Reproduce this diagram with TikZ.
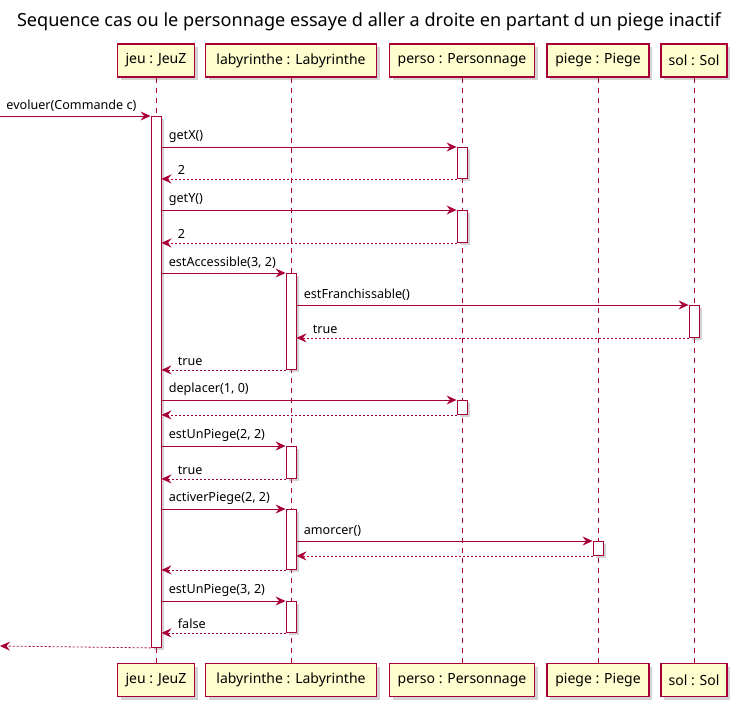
\documentclass[tikz,border=0pt]{standalone}
\usepackage{fontspec}
\setmainfont{Noto Sans}
\usetikzlibrary{arrows.meta,shadows}
\definecolor{umlred}{HTML}{A80036}
\definecolor{umlfill}{HTML}{FEFECE}
\tikzset{
  actor/.style={draw=umlred, line width=1.2pt, fill=umlfill, minimum height=33pt, inner sep=0pt,
    font=\fontsize{14}{16}\selectfont, drop shadow={shadow xshift=3pt, shadow yshift=-3pt, opacity=0.35}},
  life/.style={draw=umlred, line width=0.8pt, dash pattern=on 5pt off 5pt},
  bar/.style={draw=umlred, line width=0.9pt, fill=white, minimum width=10pt, inner sep=0pt, anchor=north,
    drop shadow={shadow xshift=3pt, shadow yshift=-3pt, opacity=0.35}},
  call/.style={draw=umlred, line width=0.8pt, -{Stealth[length=10pt, width=9pt, inset=3.5pt]}},
  ret/.style={call, dash pattern=on 2pt off 2pt},
  lbl/.style={anchor=south west, inner sep=0pt, yshift=4pt, font=\fontsize{12.6}{14}\selectfont}
}

\begin{document}
\begin{tikzpicture}[x=1pt, y=-1pt]
\useasboundingbox (0,0) rectangle (738,709);
\node[font=\fontsize{18.1}{21}\selectfont] (title) at (369,22) {Sequence cas ou le personnage essaye d aller a droite en partant d un piege inactif};

% participants
\node[actor, minimum width=77pt]  (jeu)   at (156,60.5) {jeu : JeuZ};
\node[actor, minimum width=171pt] (laby)  at (291,60.5) {labyrinthe : Labyrinthe};
\node[actor, minimum width=145pt] (perso) at (462,60.5) {perso : Personnage};
\node[actor, minimum width=102pt] (piege) at (598,60.5) {piege : Piege};
\node[actor, minimum width=66pt]  (sol)   at (694,60.5) {sol : Sol};
\node[actor, minimum width=77pt]  (jeuB)   at (156,680) {jeu : JeuZ};
\node[actor, minimum width=171pt] (labyB)  at (291,680) {labyrinthe : Labyrinthe};
\node[actor, minimum width=145pt] (persoB) at (462,680) {perso : Personnage};
\node[actor, minimum width=102pt] (piegeB) at (598,680) {piege : Piege};
\node[actor, minimum width=66pt]  (solB)   at (694,680) {sol : Sol};
\foreach \p in {jeu,laby,perso,piege,sol}
  \draw[life] (\p) -- (\p B);

% activations
\node[bar, minimum height=531pt] (jeuA) at (156,116) {};
\node[bar, minimum height=31pt] (persoX) at (462,147) {};
\node[bar, minimum height=32pt] (persoY) at (462,210) {};
\node[bar, minimum height=96pt] (labyA) at (291,273) {};
\node[bar, minimum height=32pt] (solA) at (694,305) {};
\node[bar, minimum height=14pt] (persoD) at (462,400) {};
\node[bar, minimum height=32pt] (labyU) at (291,446) {};
\node[bar, minimum height=60pt] (labyP) at (291,509) {};
\node[bar, minimum height=14pt] (piegeA) at (598,541) {};
\node[bar, minimum height=31pt] (labyV) at (291,601) {};

\coordinate (in)  at (0,116);
\coordinate (out) at (0,646);

% messages
\draw[call] (in) -- node[lbl, pos=0, xshift=6pt] {evoluer(Commande c)} (jeuA.north west);
\draw[call] (jeuA.east |- persoX.north) -- node[lbl, pos=0, xshift=7pt] {getX()} (persoX.north west);
\draw[ret] (persoX.south west) -- node[lbl, pos=1, xshift=16pt] {2} (jeuA.east |- persoX.south);
\draw[call] (jeuA.east |- persoY.north) -- node[lbl, pos=0, xshift=7pt] {getY()} (persoY.north west);
\draw[ret] (persoY.south west) -- node[lbl, pos=1, xshift=16pt] {2} (jeuA.east |- persoY.south);
\draw[call] (jeuA.east |- labyA.north) -- node[lbl, pos=0, xshift=7pt] {estAccessible(3, 2)} (labyA.north west);
\draw[call] (labyA.north east |- solA.north) -- node[lbl, pos=0, xshift=7pt] {estFranchissable()} (solA.north west);
\draw[ret] (solA.south west) -- node[lbl, pos=1, xshift=16pt] {true} (labyA.east |- solA.south);
\draw[ret] (labyA.south west) -- node[lbl, pos=1, xshift=16pt] {true} (jeuA.east |- labyA.south);
\draw[call] (jeuA.east |- persoD.north) -- node[lbl, pos=0, xshift=7pt] {deplacer(1, 0)} (persoD.north west);
\draw[ret] (persoD.south west) -- (jeuA.east |- persoD.south);
\draw[call] (jeuA.east |- labyU.north) -- node[lbl, pos=0, xshift=7pt] {estUnPiege(2, 2)} (labyU.north west);
\draw[ret] (labyU.south west) -- node[lbl, pos=1, xshift=16pt] {true} (jeuA.east |- labyU.south);
\draw[call] (jeuA.east |- labyP.north) -- node[lbl, pos=0, xshift=7pt] {activerPiege(2, 2)} (labyP.north west);
\draw[call] (labyP.east |- piegeA.north) -- node[lbl, pos=0, xshift=7pt] {amorcer()} (piegeA.north west);
\draw[ret] (piegeA.south west) -- (labyP.east |- piegeA.south);
\draw[ret] (labyP.south west) -- (jeuA.east |- labyP.south);
\draw[call] (jeuA.east |- labyV.north) -- node[lbl, pos=0, xshift=7pt] {estUnPiege(3, 2)} (labyV.north west);
\draw[ret] (labyV.south west) -- node[lbl, pos=1, xshift=16pt] {false} (jeuA.east |- labyV.south);
\draw[ret] (jeuA.south west) -- (out);
\end{tikzpicture}
\end{document}
